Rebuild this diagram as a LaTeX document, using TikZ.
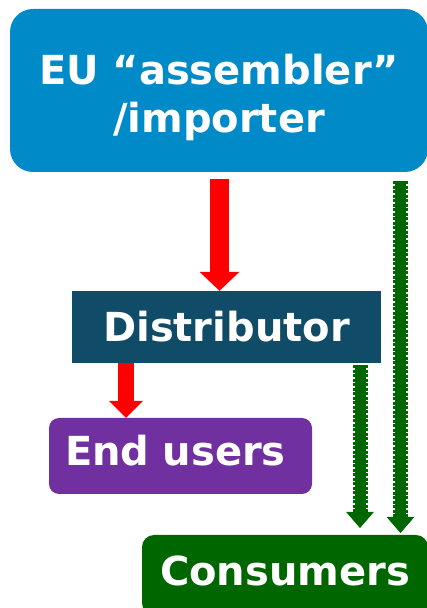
\documentclass[tikz,border=0pt]{standalone}
\usepackage{fontspec}
\setmainfont{DejaVu Sans}
\usetikzlibrary{arrows.meta}
\definecolor{impblue}{RGB}{0,138,200}
\definecolor{distblue}{RGB}{16,76,104}
\definecolor{eupurple}{RGB}{112,48,160}
\definecolor{consgreen}{RGB}{0,102,0}
\begin{document}
\begin{tikzpicture}[x=1pt,y=1pt,
  box/.style={text=white, inner sep=0pt, font=\bfseries\fontsize{40}{48}\selectfont},
  redarrow/.style={red, line width=19pt, -{Triangle[width=40pt,length=19pt,line width=0pt]}},
  greenarrow/.style={consgreen, line width=11pt, -{Triangle[width=24pt,length=14pt,line width=0pt]},
    preaction={draw, consgreen, line width=15pt, dash pattern=on 3pt off 1.5pt,
      -{Triangle[width=28pt,length=16pt,line width=0pt]}}}]
\useasboundingbox (0,0) rectangle (427,608);
% boxes
\node[box, fill=impblue, rounded corners=23pt, minimum width=418pt, minimum height=163pt,
  align=center, text height=95pt, text depth=10pt] (imp) at (219,517.5) {EU “assembler”\\/importer};
\node[box, fill=distblue, minimum width=309pt, minimum height=72pt,
  text height=30pt, text depth=0pt] (dist) at (226.5,281) {Distributor};
\node[box, fill=eupurple, rounded corners=10pt, text width=231pt, inner xsep=16pt, align=left,
  minimum height=76pt, text height=30pt, text depth=10pt] (eu) at (180.5,152) {End users};
\node[box, fill=consgreen, rounded corners=12pt, minimum width=286pt, minimum height=80pt,
  text height=30pt, text depth=10pt] (cons) at (285,33) {Consumers};
% arrows
\coordinate (r1) at (219.5,0);
\coordinate (r2) at (126,0);
\coordinate (g1) at (360,0);
\coordinate (g2) at (400.5,0);
\draw[redarrow, shorten <=7pt] (r1 |- imp.south) -- (r1 |- dist.north);
\draw[redarrow, line width=16pt, -{Triangle[width=34pt,length=17pt,line width=0pt]}] (r2 |- dist.south) -- (r2 |- eu.north);
\draw[greenarrow, shorten <=2pt, shorten >=7pt] (g1 |- dist.south) -- (g1 |- cons.north);
\draw[greenarrow, shorten <=9pt, shorten >=2pt] (g2 |- imp.south) -- (g2 |- cons.north);
\end{tikzpicture}
\end{document}
